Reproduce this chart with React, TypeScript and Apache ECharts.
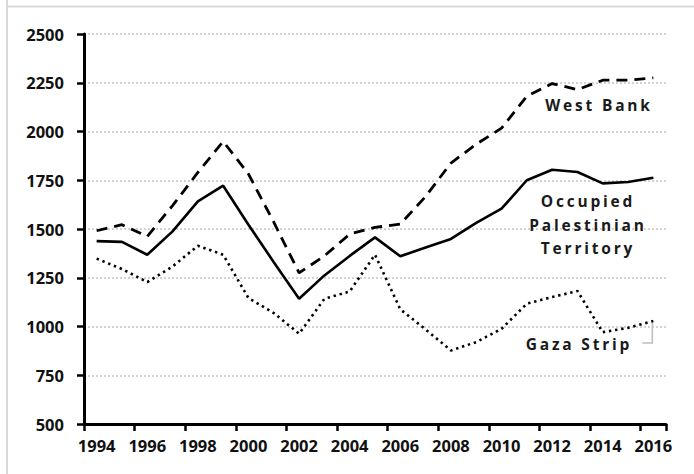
import React, { useEffect, useRef } from "react";
import * as echarts from "echarts";

const years = ["1994","1995","1996","1997","1998","1999","2000","2001","2002","2003","2004","2005","2006","2007","2008","2009","2010","2011","2012","2013","2014","2015","2016"];
const westBank = [1491,1522,1462,1620,1790,1949,1782,1535,1275,1362,1474,1508,1525,1667,1838,1935,2017,2181,2246,2215,2263,2263,2275];
const opt = [1438,1434,1368,1488,1642,1722,1522,1330,1142,1262,1362,1457,1360,1405,1449,1531,1604,1750,1804,1792,1734,1741,1763];
const gaza = [1348,1295,1228,1308,1414,1368,1146,1069,963,1142,1180,1368,1088,985,877,920,988,1117,1151,1182,971,993,1028];

const AXIS_FONT = "Open Sans";
const LABEL_SIZE = 15.5;

export default function App() {
  const ref = useRef<HTMLDivElement>(null);
  useEffect(() => {
    if (!ref.current) return;
    const chart = echarts.init(ref.current, null, { renderer: "svg" });
    const labelStyle = {
      fill: "#1a1a1a",
      font: `bold ${LABEL_SIZE}px "${AXIS_FONT}"`,
      textAlign: "center",
      textVerticalAlign: "middle",
    };
    chart.setOption({
      animation: false,
      backgroundColor: "#ffffff",
      grid: { left: 84, top: 34, right: 28, bottom: 50, containLabel: false },
      xAxis: {
        type: "category",
        data: years,
        boundaryGap: true,
        axisLine: { show: true, lineStyle: { color: "#000", width: 3 } },
        axisTick: { show: true, interval: 1, alignWithLabel: false, length: 7, lineStyle: { color: "#000", width: 2.5 } },
        axisLabel: { interval: 1, margin: 13, color: "#111", fontFamily: AXIS_FONT, fontWeight: "bold", fontSize: 16.5 },
        splitLine: { show: false },
      },
      yAxis: {
        type: "value",
        min: 500,
        max: 2500,
        interval: 250,
        axisLine: { show: true, lineStyle: { color: "#000", width: 3 } },
        axisTick: { show: true, length: 7, lineStyle: { color: "#000", width: 2.5 } },
        axisLabel: { margin: 20, color: "#111", fontFamily: AXIS_FONT, fontWeight: "bold", fontSize: 16.5, formatter: (v: number) => String(v) },
        splitLine: { show: true, lineStyle: { color: "#c4c4c4", width: 1.5, type: [2, 2] } },
      },
      series: [
        {
          name: "West Bank",
          type: "line",
          data: westBank,
          symbol: "none",
          lineStyle: { color: "#000", width: 2.8, type: [11, 7] },
          z: 3,
        },
        {
          name: "Occupied Palestinian Territory",
          type: "line",
          data: opt,
          symbol: "none",
          lineStyle: { color: "#000", width: 2.6, type: "solid" },
          z: 3,
        },
        {
          name: "Gaza Strip",
          type: "line",
          data: gaza,
          symbol: "none",
          lineStyle: { color: "#000", width: 2.6, type: [2.4, 3.8] },
          z: 3,
        },
      ],
    });
    const last = years.length - 1;
    const p = chart.convertToPixel({ gridIndex: 0 }, [years[last], gaza[last]]) as number[];
    chart.setOption({
      graphic: [
        { type: "line", shape: { x1: 7, y1: 0, x2: 7, y2: 474 }, style: { stroke: "#d9d9d9", lineWidth: 2 }, silent: true },
        { type: "line", shape: { x1: 7, y1: 6.5, x2: 694, y2: 6.5 }, style: { stroke: "#d9d9d9", lineWidth: 2 }, silent: true },
        { type: "text", x: 599, y: 105, style: { ...labelStyle, text: "West Bank" } },
        { type: "text", x: 588, y: 201, style: { ...labelStyle, text: "Occupied" } },
        { type: "text", x: 588, y: 224.5, style: { ...labelStyle, text: "Palestinian" } },
        { type: "text", x: 588, y: 248, style: { ...labelStyle, text: "Territory" } },
        { type: "text", x: 579, y: 344, style: { ...labelStyle, text: "Gaza Strip" } },
        {
          type: "polyline",
          shape: { points: [[p[0] - 11, 343], [p[0] - 1, 343], [p[0] - 1, p[1] + 1]] },
          style: { stroke: "#bfbfbf", lineWidth: 1.6, fill: "none" },
          silent: true,
        },
      ],
    });
    return () => chart.dispose();
  }, []);
  return (
    <>
      <style>{`.chart-host text[style*="${LABEL_SIZE}px"] { letter-spacing: 2.8px; }`}</style>
      <div
        className="chart-host"
        ref={ref}
        style={{ position: "absolute", left: 0, top: 0, width: 694, height: 474 }}
      />
    </>
  );
}
